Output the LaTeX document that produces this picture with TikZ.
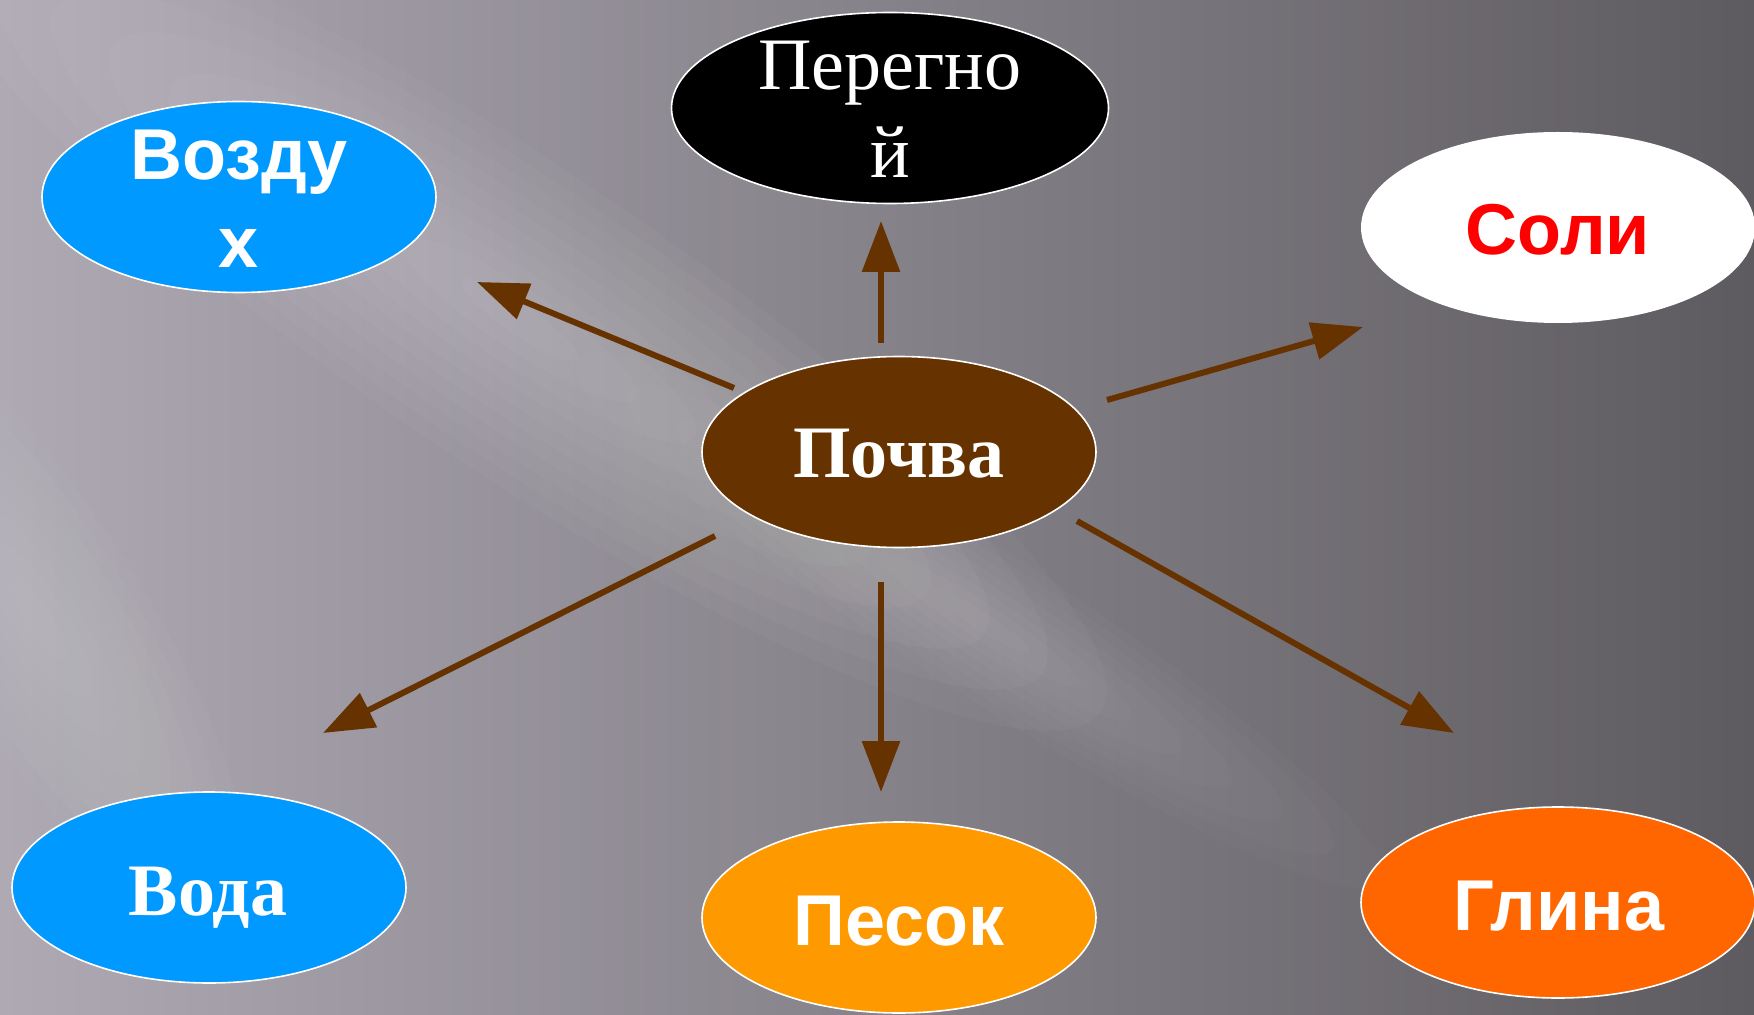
\documentclass[tikz,border=0pt]{standalone}
\usepackage{fontspec}
\setmainfont{Liberation Serif}
\newfontfamily\arialfont{Liberation Sans}
\usetikzlibrary{arrows.meta,shapes.geometric}
\definecolor{bluefill}{HTML}{0099FF}
\definecolor{brownfill}{HTML}{663300}
\definecolor{sandfill}{HTML}{FF9900}
\definecolor{clayfill}{HTML}{FF6600}
\definecolor{saltred}{HTML}{FF0000}
\definecolor{bgL}{HTML}{AEA9B3}
\definecolor{bgM}{HTML}{807B84}
\definecolor{bgR}{HTML}{5E5B60}
\tikzset{
  blob/.style={ellipse, inner sep=0pt, minimum width=197pt, minimum height=95.5pt, draw=white, line width=0.8pt},
  sanstxt/.style={font=\arialfont\bfseries\fontsize{36}{44}\selectfont, text=white, inner sep=0pt, anchor=base},
  seriftxt/.style={font=\bfseries\fontsize{37}{44}\selectfont, text=white, inner sep=0pt, anchor=base},
  arr/.style={draw=brownfill, line width=3pt, -{Triangle[length=25.5pt,width=18.5pt]}},
  glowlayer/.style={white, opacity=#1},
}
\begin{document}
\begin{tikzpicture}[x=0.5pt,y=-0.5pt]
\useasboundingbox (0,0) rectangle (1754,1015);
% background
\fill[left color=bgL, middle color=bgM, right color=bgR] (0,0) rectangle (1754,1015);
\begin{scope}
  \clip (0,0) rectangle (1754,1015);
  \begin{scope}[shift={(520,320)}, rotate=-34]
    \foreach \k in {1,...,10} {\fill[glowlayer=0.028] (0,0) ellipse [x radius={70*\k}, y radius={15*\k}];}
  \end{scope}
  \begin{scope}[shift={(980,620)}, rotate=-33]
    \foreach \k in {1,...,8} {\fill[glowlayer=0.018] (0,0) ellipse [x radius={60*\k}, y radius={9*\k}];}
  \end{scope}
  \begin{scope}[shift={(40,620)}, rotate=-58]
    \foreach \k in {1,...,8} {\fill[glowlayer=0.022] (0,0) ellipse [x radius={45*\k}, y radius={13*\k}];}
  \end{scope}
\end{scope}

% ellipses
\node[blob, fill=bluefill] (vozduh) at (239,197) {};
\node[blob, fill=black, minimum width=218.5pt] (peregnoi) at (890,108) {};
\node[blob, fill=white, draw=none] (soli) at (1558,227.5) {};
\node[blob, fill=brownfill] (pochva) at (899,452) {};
\node[blob, fill=bluefill] (voda) at (209,887.5) {};
\node[blob, fill=sandfill] (pesok) at (899,917.5) {};
\node[blob, fill=clayfill] (glina) at (1558,902.5) {};

% texts
\node[sanstxt] (vozduhT) at (239,180) {\begin{tabular}[t]{@{}c@{}}Возду\\х\end{tabular}};
\node[seriftxt, font=\mdseries\fontsize{37}{44}\selectfont] (peregnoiT) at (890,90) {\begin{tabular}[t]{@{}c@{}}Перегно\\й\end{tabular}};
\node[sanstxt, text=saltred] (soliT) at (1558,255) {Соли};
\node[seriftxt] (pochvaT) at (899,478) {Почва};
\node[seriftxt] (vodaT) at (208,915) {Вода};
\node[sanstxt] (pesokT) at (899,945) {Песок};
\node[sanstxt] (glinaT) at (1559,930) {Глина};

% connector ends
\coordinate (sUp) at (881,343);   \coordinate (tUp) at (881,221);
\coordinate (sAir) at (734,388);  \coordinate (tAir) at (477,282);
\coordinate (sSalt) at (1107,400);\coordinate (tSalt) at (1363,327);
\coordinate (sWater) at (715,536);\coordinate (tWater) at (323,733);
\coordinate (sSand) at (881,582); \coordinate (tSand) at (881,792);
\coordinate (sClay) at (1077,521);\coordinate (tClay) at (1454,733);

\draw[arr] (sUp) -- (tUp);
\draw[arr] (sAir) -- (tAir);
\draw[arr] (sSalt) -- (tSalt);
\draw[arr] (sWater) -- (tWater);
\draw[arr] (sSand) -- (tSand);
\draw[arr] (sClay) -- (tClay);
\end{tikzpicture}
\end{document}
